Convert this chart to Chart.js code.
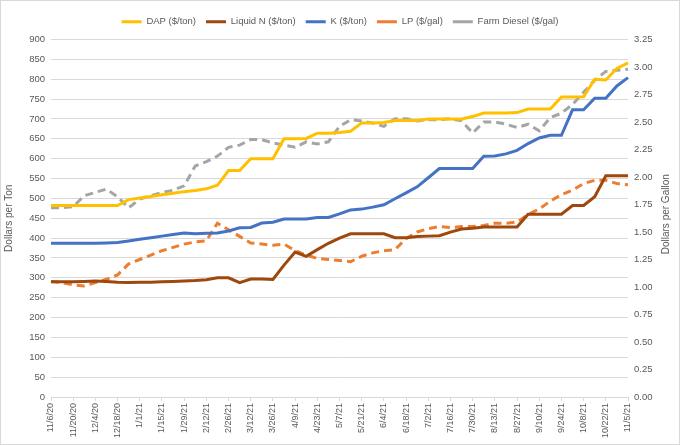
<!DOCTYPE html>
<html>
<head>
<meta charset="utf-8">
<script src="https://cdn.jsdelivr.net/npm/chart.js@4"></script>
<style>
    html, body { margin: 0; padding: 0; background: #fff; }
    #wrap { width: 680px; height: 445px; box-sizing: border-box; border: 1px solid #d9d9d9; position: relative; }
</style>
</head>
<body>
<div id="wrap"><canvas id="fert_prices"></canvas></div>
<script>
/* global Chart */

const weeks = [
    "11/6/20", "11/13/20", "11/20/20", "11/27/20", "12/4/20", "12/11/20", "12/18/20", "12/25/20",
    "1/1/21", "1/8/21", "1/15/21", "1/22/21", "1/29/21", "2/5/21", "2/12/21", "2/19/21", "2/26/21",
    "3/5/21", "3/12/21", "3/19/21", "3/26/21", "4/2/21", "4/9/21", "4/16/21", "4/23/21", "4/30/21",
    "5/7/21", "5/14/21", "5/21/21", "5/28/21", "6/4/21", "6/11/21", "6/18/21", "6/25/21",
    "7/2/21", "7/9/21", "7/16/21", "7/23/21", "7/30/21", "8/6/21", "8/13/21", "8/20/21", "8/27/21",
    "9/3/21", "9/10/21", "9/17/21", "9/24/21", "10/1/21", "10/8/21", "10/15/21", "10/22/21",
    "10/29/21", "11/5/21"
];

// $/ton, left axis
const dap = [
    482, 482, 482, 482, 482, 482, 482, 497, 501, 505, 509, 513, 517, 520, 524, 533, 570, 570,
    600, 600, 600, 650, 650, 651, 664, 664, 666, 669, 690, 690, 691, 696, 696, 696, 700, 700,
    700, 700, 706, 715, 715, 715, 716, 725, 725, 725, 755, 755, 756, 800, 798, 827, 841
];
const liquidN = [
    290, 290, 290, 291, 292, 291, 289, 288, 289, 289, 290, 291, 292, 293, 295, 300, 300, 288,
    297, 297, 296, 332, 365, 354, 371, 387, 400, 411, 411, 411, 411, 401, 401, 404, 405, 406,
    415, 423, 425, 428, 428, 428, 428, 460, 460, 460, 460, 482, 482, 504, 557, 557, 557
];
const potash = [
    387, 387, 387, 387, 387, 388, 389, 393, 397, 401, 405, 409, 413, 411, 412, 413, 418, 426,
    427, 438, 440, 448, 448, 448, 452, 452, 461, 471, 473, 478, 484, 499, 514, 529, 552, 575,
    575, 575, 575, 606, 607, 612, 621, 638, 652, 659, 659, 723, 723, 752, 752, 783, 804
];

// $/gal, right axis
const lp = [
    1.05, 1.04, 1.02, 1.01, 1.04, 1.07, 1.11, 1.21, 1.25, 1.29, 1.33, 1.36, 1.39, 1.41, 1.42,
    1.58, 1.52, 1.46, 1.40, 1.39, 1.38, 1.39, 1.33, 1.29, 1.26, 1.25, 1.24, 1.23, 1.28, 1.31,
    1.33, 1.34, 1.44, 1.50, 1.53, 1.55, 1.54, 1.55, 1.55, 1.56, 1.58, 1.58, 1.59, 1.66, 1.71,
    1.78, 1.84, 1.88, 1.94, 1.97, 1.97, 1.94, 1.93
];
const farmDiesel = [
    1.72, 1.72, 1.73, 1.83, 1.86, 1.89, 1.82, 1.72, 1.80, 1.83, 1.86, 1.88, 1.92, 2.10, 2.14,
    2.19, 2.27, 2.29, 2.34, 2.34, 2.31, 2.29, 2.27, 2.32, 2.30, 2.32, 2.46, 2.52, 2.51, 2.49,
    2.46, 2.53, 2.53, 2.51, 2.52, 2.52, 2.53, 2.51, 2.40, 2.50, 2.50, 2.48, 2.45, 2.48, 2.42,
    2.54, 2.58, 2.66, 2.77, 2.88, 2.96, 2.97, 2.98
];

const grid_color = "#d9d9d9";
const text_color = "#595959";
const font_family = "'Liberation Sans', Arial, sans-serif";

function line(label, data, color, axis, dashed) {
    return {
        label: label,
        data: data,
        yAxisID: axis,
        borderColor: color,
        backgroundColor: color,
        borderWidth: 3,
        borderDash: dashed ? [8, 5] : [],
        pointRadius: 0,
        tension: 0,
        fill: false,
    };
}

// a bit more room under the legend
const legendGap = {
    id: "legendGap",
    beforeInit(chart) {
        const fit = chart.legend.fit;
        chart.legend.fit = function () {
            fit.bind(chart.legend)();
            this.height += 3;
        };
    },
};

// right axis title reads bottom-to-top like the left one
const rightTitle = {
    id: "rightTitle",
    afterDraw(chart) {
        const ctx = chart.ctx;
        const area = chart.chartArea;
        ctx.save();
        ctx.translate(chart.width - 13, (area.top + area.bottom) / 2 - 4);
        ctx.rotate(-Math.PI / 2);
        ctx.fillStyle = text_color;
        ctx.font = "10px " + font_family;
        ctx.textAlign = "center";
        ctx.textBaseline = "middle";
        ctx.fillText("Dollars per Gallon", 0, 0);
        ctx.restore();
    },
};

new Chart(document.getElementById("fert_prices"), {
    type: "line",
    data: {
        labels: weeks,
        datasets: [
            line("DAP ($/ton)", dap, "#ffc000", "y", false),
            line("Liquid N ($/ton)", liquidN, "#9e480e", "y", false),
            line("K ($/ton)", potash, "#4472c4", "y", false),
            line("LP ($/gal)", lp, "#ed7d31", "y1", true),
            line("Farm Diesel ($/gal)", farmDiesel, "#a5a5a5", "y1", true),
        ],
    },
    plugins: [legendGap, rightTitle],
    options: {
        responsive: true,
        maintainAspectRatio: false,
        animation: false,
        layout: { padding: { top: 6, left: 0, right: 0, bottom: 0 } },
        plugins: {
            tooltip: { enabled: false },
            legend: {
                position: "top",
                labels: {
                    usePointStyle: true,
                    pointStyle: "line",
                    pointStyleWidth: 20,
                    boxWidth: 20,
                    boxHeight: 6,
                    padding: 10,
                    color: text_color,
                    font: { family: font_family, size: 9.5 },
                },
            },
        },
        scales: {
            x: {
                ticks: {
                    autoSkip: false,
                    maxRotation: 90,
                    minRotation: 90,
                    color: text_color,
                    padding: 2,
                    font: { family: font_family, size: 9 },
                    callback: function (value, index) {
                        return index % 2 === 0 ? weeks[index] : null;
                    },
                },
                grid: { drawOnChartArea: false, color: grid_color, tickLength: 4 },
                border: { color: grid_color },
                afterFit: (axis) => { axis.height = 47; },
            },
            y: {
                position: "left",
                min: 0,
                max: 900,
                ticks: {
                    stepSize: 50,
                    color: text_color,
                    padding: 6,
                    font: { family: font_family, size: 9.5 },
                },
                grid: { color: grid_color, drawTicks: false },
                border: { display: false },
                title: {
                    display: true,
                    text: "Dollars per Ton",
                    color: text_color,
                    font: { family: font_family, size: 10 },
                    padding: { top: 2, bottom: 4 },
                },
                afterFit: (axis) => { axis.width = 50; },
            },
            y1: {
                position: "right",
                min: 0,
                max: 3.25,
                ticks: {
                    stepSize: 0.25,
                    color: text_color,
                    padding: 6,
                    font: { family: font_family, size: 9.5 },
                    callback: (v) => v.toFixed(2),
                },
                grid: { drawOnChartArea: false, drawTicks: false },
                border: { display: false },
                afterFit: (axis) => { axis.width = 51; },
            },
        },
    },
});
</script>
</body>
</html>
